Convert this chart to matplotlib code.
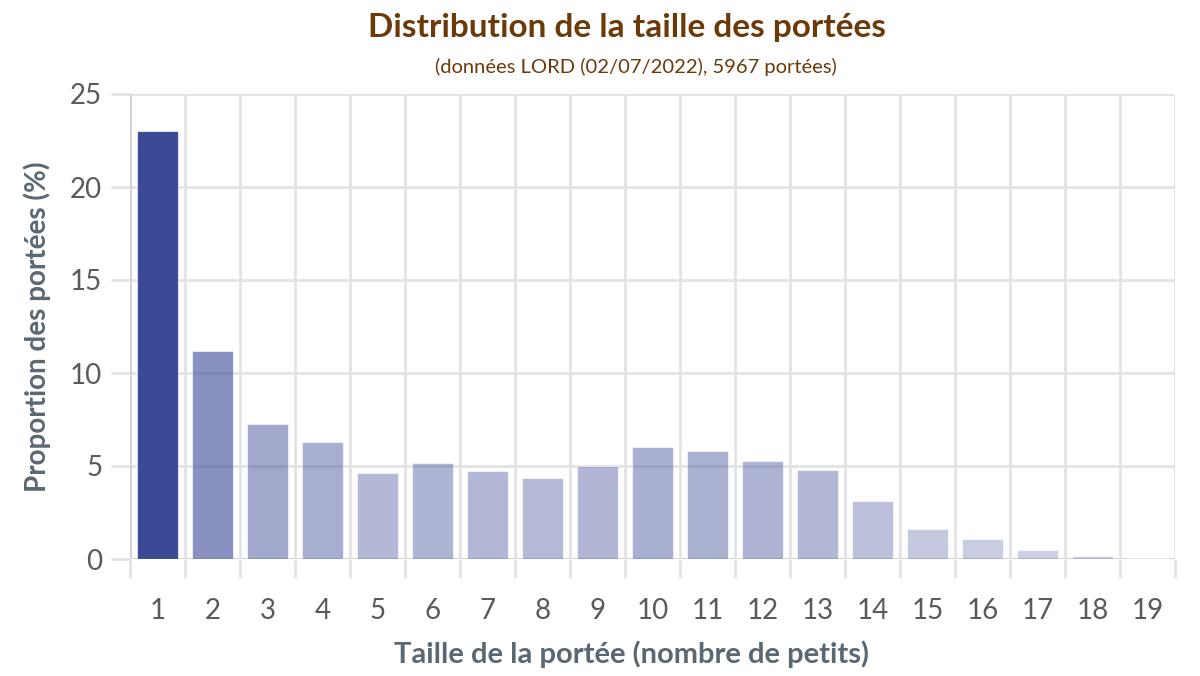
import matplotlib
matplotlib.use("Agg")
import matplotlib.pyplot as plt
import numpy as np

categories = list(range(1, 20))
proportions = [23.0, 11.18, 7.26, 6.29, 4.62, 5.16, 4.73, 4.35, 5.0, 6.02,
               5.81, 5.27, 4.78, 3.12, 1.61, 1.08, 0.48, 0.18, 0.06]
title = "Distribution de la taille des portées"
subtitle = "(données LORD (02/07/2022), 5967 portées)"
xlabel = "Taille de la portée (nombre de petits)"
ylabel = "Proportion des portées (%)"
yticks = [0, 5, 10, 15, 20, 25]

plt.rcParams['font.family'] = ['Lato', 'DejaVu Sans']

fig = plt.figure(figsize=(12, 6.76), dpi=100)
ax = fig.add_axes([130/1200, 1 - 559/676, 1045/1200, 465/676])

base = np.array([60, 74, 150]) / 255.0
vals = np.array(proportions)
alphas = 0.24 + 0.76 * vals / vals.max()
for c, v, a in zip(categories, proportions, alphas):
    ax.bar(c, v, width=0.73, color=(*base, a), edgecolor=(1, 1, 1, 0.6),
           linewidth=0.8, zorder=3)

ax.set_xlim(0.5, 19.5)
ax.set_ylim(0, 25)

grid_c = "#e3e3e3"
ax.set_yticks(yticks)
ax.set_yticklabels([str(t) for t in yticks])
for t in yticks:
    ax.axhline(t, color=grid_c if t else "#d0d0d0", lw=2, zorder=1)
ax.set_xticks(categories)
ax.set_xticks(np.arange(0.5, 20.0, 1.0), minor=True)
for b in np.arange(0.5, 20.0, 1.0):
    ax.axvline(b, color=grid_c if b > 0.6 else "#cfcfcf", lw=2, zorder=1)

ax.tick_params(axis='x', which='major', length=0, pad=28, labelsize=20,
               labelcolor="#5a5a5a")
ax.tick_params(axis='x', which='minor', length=14, width=2, color=grid_c)
ax.tick_params(axis='y', which='major', length=14, width=2, color=grid_c,
               pad=6, labelsize=20, labelcolor="#5a5a5a")
for s in ax.spines.values():
    s.set_visible(False)

ax.set_xlabel(xlabel, fontsize=21, fontweight='bold', color="#5a6874", labelpad=12)
ax.xaxis.set_label_coords((632 - 130) / 1045, -0.175)
ax.set_ylabel(ylabel, fontsize=20, fontweight='bold', color="#5a6874", labelpad=14)

fig.text(627/1200, 1 - 28/676, title, ha='center', va='center', fontsize=24,
         fontweight='bold', color="#6b3a08")
fig.text(636/1200, 1 - 67/676, subtitle, ha='center', va='center', fontsize=14.5,
         color="#6b3a08")

fig.savefig("out.png", dpi=100)
